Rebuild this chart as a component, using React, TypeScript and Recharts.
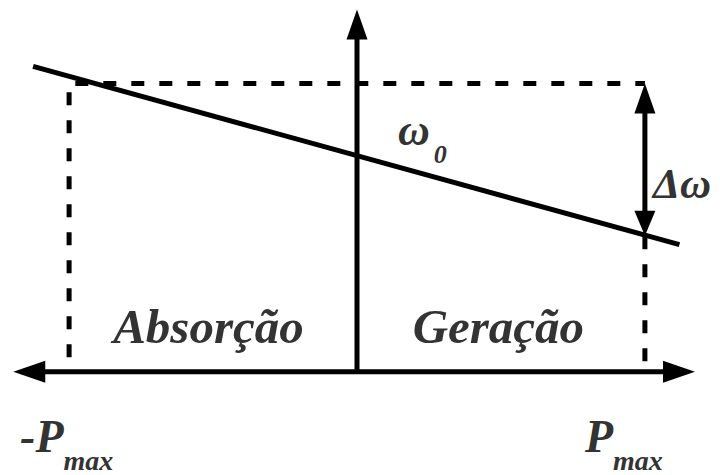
import React from 'react';
import { ComposedChart, Line, Scatter, XAxis, YAxis } from 'recharts';

// Power (p, in units of Pmax) and frequency (w) coordinates
const powerAxis = [
  { p: -1.15, w: 0 },
  { p: 1.14, w: 0 },
];
const freqAxis = [
  { p: 0, w: 0 },
  { p: 0, w: 1.2 },
];
const droopLine = [
  { p: -1.125, w: 1.06 },
  { p: 1.12, w: 0.441 },
];
const limitBox = [
  { p: -1, w: 0.05 },
  { p: -1, w: 1.0 },
  { p: 1, w: 1.0 },
];
const limitRight = [
  { p: 1, w: 0.47 },
  { p: 1, w: 0 },
];
const deltaShaft = [
  { p: 1, w: 0.9 },
  { p: 1, w: 0.55 },
];
const arrowTips = [
  { p: -1.194, w: 0, dir: 'left' },
  { p: 1.174, w: 0, dir: 'right' },
  { p: 0, w: 1.257, dir: 'up' },
  { p: 1, w: 1.0, dir: 'up' },
  { p: 1, w: 0.472, dir: 'down' },
];
const regionLabels = [
  { p: -0.516, w: 0.1, text: 'Absorção' },
  { p: 0.491, w: 0.1, text: 'Geração' },
];
const symbolLabels = [
  { p: 0.142, w: 0.788, main: 'ω', sub: '0' },
  { p: 1.028, w: 0.604, main: 'Δω', sub: '' },
];
const pTicks = [-1, 1];
const pTickLabels = ['-P', 'P'];
const pTickSub = 'max';

const TEXT = '#333333';
const FONT_STYLE = {
  fontFamily: "'Liberation Serif'",
  fontWeight: 700,
  fontStyle: 'italic',
} as React.CSSProperties;

const ArrowHead = (props: any) => {
  const { cx, cy, payload } = props;
  const dir = payload.dir;
  let pts = '';
  if (dir === 'left') pts = `${cx},${cy} ${cx + 32},${cy - 11} ${cx + 32},${cy + 11}`;
  else if (dir === 'right') pts = `${cx},${cy} ${cx - 32},${cy - 11} ${cx - 32},${cy + 11}`;
  else if (dir === 'up') pts = `${cx},${cy} ${cx - 10.5},${cy + 30} ${cx + 10.5},${cy + 30}`;
  else pts = `${cx},${cy} ${cx - 10.5},${cy - 25} ${cx + 10.5},${cy - 25}`;
  return <polygon points={pts} fill="#000" />;
};

const RegionLabel = (props: any) => {
  const { cx, cy, payload } = props;
  return (
    <text x={cx} y={cy} textAnchor="middle" fill={TEXT} style={{ ...FONT_STYLE, fontSize: 49 }}>
      {payload.text}
    </text>
  );
};

const SymbolLabel = (props: any) => {
  const { cx, cy, payload } = props;
  return (
    <text x={cx} y={cy} textAnchor="start" fill={TEXT} style={{ ...FONT_STYLE, fontSize: payload.sub ? 44 : 43 }}>
      {payload.main}
      {payload.sub ? (
        <tspan style={{ fontSize: 26 }} dx={4} dy={18}>
          {payload.sub}
        </tspan>
      ) : null}
    </text>
  );
};

const PowerTick = (props: any) => {
  const { x, y, payload } = props;
  const idx = pTicks.indexOf(payload.value);
  const neg = payload.value < 0;
  const startX = x + (neg ? -49 : -60);
  return (
    <text x={startX} y={y + 37} fill={TEXT} style={{ ...FONT_STYLE, fontSize: 46 }}>
      {pTickLabels[idx]}
      <tspan style={{ fontSize: 28 }} dy={18}>
        {pTickSub}
      </tspan>
    </text>
  );
};

export default function App() {
  return (
    <div style={{ position: 'absolute', left: 0, top: 0, width: 720, height: 475, background: '#fff' }}>
      <ComposedChart width={720} height={475} margin={{ top: 0, right: 6, bottom: 0, left: 0 }}>
        <XAxis
          dataKey="p"
          type="number"
          domain={[-1.24, 1.24]}
          ticks={pTicks}
          interval={0}
          axisLine={false}
          tickLine={false}
          tickSize={0}
          tickMargin={0}
          height={60}
          tick={<PowerTick />}
        />
        <YAxis type="number" dataKey="w" domain={[-0.15, 1.29]} hide />
        <Line data={limitBox} dataKey="w" stroke="#000" strokeWidth={5} strokeDasharray="13 15" strokeLinejoin="miter" dot={false} activeDot={false} isAnimationActive={false} />
        <Line data={limitRight} dataKey="w" stroke="#000" strokeWidth={5} strokeDasharray="13 15" dot={false} activeDot={false} isAnimationActive={false} />
        <Line data={powerAxis} dataKey="w" stroke="#000" strokeWidth={5} dot={false} activeDot={false} isAnimationActive={false} />
        <Line data={freqAxis} dataKey="w" stroke="#000" strokeWidth={5} dot={false} activeDot={false} isAnimationActive={false} />
        <Line data={droopLine} dataKey="w" stroke="#000" strokeWidth={5} dot={false} activeDot={false} isAnimationActive={false} />
        <Line data={deltaShaft} dataKey="w" stroke="#000" strokeWidth={5} dot={false} activeDot={false} isAnimationActive={false} />
        <Scatter data={arrowTips} dataKey="w" shape={<ArrowHead />} isAnimationActive={false} />
        <Scatter data={regionLabels} dataKey="w" shape={<RegionLabel />} isAnimationActive={false} />
        <Scatter data={symbolLabels} dataKey="w" shape={<SymbolLabel />} isAnimationActive={false} />
      </ComposedChart>
    </div>
  );
}
